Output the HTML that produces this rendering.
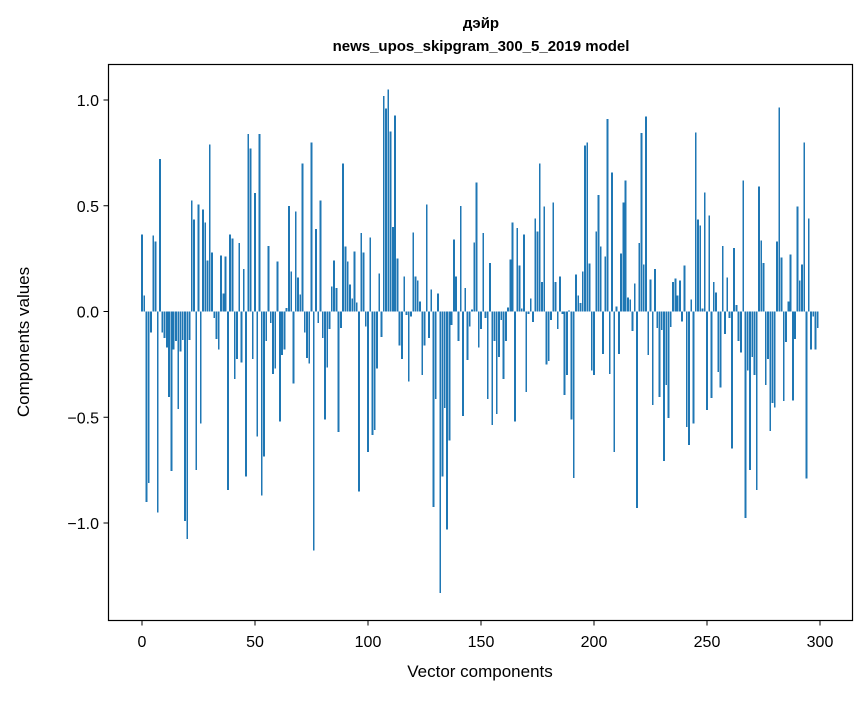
<!DOCTYPE html>
<html><head><meta charset="utf-8"><style>
body{margin:0;background:#fff}
svg text{font-family:"Liberation Sans","DejaVu Sans",sans-serif}
</style></head><body>
<svg id="chart" width="867" height="696" xmlns="http://www.w3.org/2000/svg">
<rect width="867" height="696" fill="#fff"/>
<text x="481" y="28" text-anchor="middle" font-size="15" font-weight="bold">дэйр</text>
<text x="481" y="51" text-anchor="middle" font-size="15" font-weight="bold">news_upos_skipgram_300_5_2019 model</text>
<g id="bars" shape-rendering="crispEdges"></g>
<g id="axes"></g>
<rect x="108.5" y="64.5" width="744" height="556" fill="none" stroke="#000" stroke-width="1.2"/>
<text x="480" y="677" text-anchor="middle" font-size="17">Vector components</text>
<text transform="translate(29,342) rotate(-90)" text-anchor="middle" font-size="17">Components values</text>
</svg>
<script>
const values = [0.365,0.076,-0.90,-0.81,-0.10,0.36,0.33,-0.95,0.72,-0.10,
-0.125,-0.17,-0.405,-0.755,-0.18,-0.14,-0.46,-0.19,-0.135,-0.99,
-1.075,-0.135,0.525,0.435,-0.75,0.507,-0.53,0.483,0.42,0.24,
0.79,0.28,-0.03,-0.13,-0.18,0.265,0.086,0.26,-0.845,0.365,
0.346,-0.32,-0.225,0.323,-0.24,0.2,-0.78,0.84,0.77,-0.225,
0.56,-0.59,0.84,-0.87,-0.685,-0.14,0.31,-0.055,-0.295,-0.27,
0.236,-0.52,-0.205,-0.18,0.017,0.50,0.19,-0.34,0.473,0.16,
0.08,0.70,-0.10,-0.22,-0.245,0.80,-1.13,0.39,-0.055,0.525,
-0.125,-0.51,-0.265,-0.083,0.118,0.24,0.11,-0.57,-0.078,0.70,
0.307,0.236,0.128,0.062,0.284,0.042,-0.85,0.37,0.28,-0.07,
-0.665,0.35,-0.585,-0.56,-0.27,0.18,-0.12,1.02,0.96,1.05,
0.85,0.40,0.927,0.25,-0.16,-0.225,0.165,-0.017,-0.33,-0.024,
0.373,0.165,0.147,0.047,-0.30,-0.16,0.507,-0.125,0.105,-0.925,
-0.414,0.086,-1.33,-0.78,-0.456,-1.03,-0.61,-0.064,0.34,0.165,
-0.14,0.50,-0.495,0.11,-0.23,-0.07,0.01,0.326,0.61,-0.17,
-0.083,0.37,-0.03,-0.414,0.23,-0.537,-0.14,-0.485,-0.216,-0.04,
-0.32,-0.14,0.02,0.247,0.42,-0.52,0.394,0.218,0.015,0.365,
-0.38,-0.012,0.062,-0.05,0.44,0.378,0.70,0.14,0.497,-0.25,
-0.235,-0.04,0.515,0.14,-0.083,0.165,-0.012,-0.395,-0.30,0.005,
-0.51,-0.787,0.176,0.076,0.04,0.19,0.785,0.80,0.228,-0.28,
-0.30,0.378,0.55,0.307,-0.20,0.26,0.91,-0.295,0.657,-0.665,
0.024,-0.20,0.275,0.515,0.62,0.066,0.057,-0.093,0.133,-0.93,
0.323,0.843,0.223,0.922,-0.206,0.152,-0.443,0.20,-0.078,-0.405,
-0.088,-0.708,-0.348,-0.503,-0.074,0.14,0.157,0.076,0.147,-0.047,
0.218,-0.547,-0.632,0.057,-0.53,0.846,0.435,0.407,0.015,0.562,
-0.466,0.454,-0.409,0.14,0.09,-0.287,-0.36,0.31,-0.106,0.16,
-0.03,-0.647,0.30,0.03,-0.14,-0.195,0.62,-0.977,-0.28,-0.75,
-0.216,-0.30,-0.845,0.59,0.336,0.23,-0.348,-0.225,-0.566,-0.432,
-0.453,0.33,0.964,0.255,-0.424,-0.145,0.047,0.27,-0.42,-0.13,
0.497,0.147,0.223,0.80,-0.79,0.44,-0.18,-0.024,-0.18,-0.078];
const xTicks = [0,50,100,150,200,250,300];
const yTicks = [-1.0,-0.5,0.0,0.5,1.0];
const yTickLabels = ["\u22121.0","\u22120.5","0.0","0.5","1.0"];

const NS="http://www.w3.org/2000/svg";
const xs = v => 142 + v*(820-142)/300;
const ys = v => 311.5 - v*211.5;
const bw = 0.8*(820-142)/300;
const bars=document.getElementById('bars');
values.forEach((v,i)=>{
  const r=document.createElementNS(NS,'rect');
  
  
  r.setAttribute('x',xs(i)-bw/2);
  r.setAttribute('width',bw);
  r.setAttribute('y',Math.min(ys(v),ys(0)));
  r.setAttribute('height',Math.abs(ys(v)-ys(0)));
  r.setAttribute('fill','#1f77b4');
  bars.appendChild(r);
});
const axes=document.getElementById('axes');
xTicks.forEach(t=>{
  const l=document.createElementNS(NS,'line');
  
  
  l.setAttribute('x1',xs(t));l.setAttribute('x2',xs(t));
  l.setAttribute('y1',620.5);l.setAttribute('y2',625.5);
  l.setAttribute('stroke','#000');
  axes.appendChild(l);
  const tx=document.createElementNS(NS,'text');
  
  
  tx.setAttribute('x',xs(t));tx.setAttribute('y',647);
  tx.setAttribute('text-anchor','middle');tx.setAttribute('font-size','16');
  tx.textContent=t;
  axes.appendChild(tx);
});
yTicks.forEach((t,k)=>{
  const l=document.createElementNS(NS,'line');
  
  
  l.setAttribute('x1',103.5);l.setAttribute('x2',108.5);
  l.setAttribute('y1',ys(t));l.setAttribute('y2',ys(t));
  l.setAttribute('stroke','#000');
  axes.appendChild(l);
  const tx=document.createElementNS(NS,'text');
  
  
  tx.setAttribute('x',99);tx.setAttribute('y',ys(t)+6);
  tx.setAttribute('text-anchor','end');tx.setAttribute('font-size','16');
  tx.textContent=yTickLabels[k];
  axes.appendChild(tx);
});
</script>
</body></html>
